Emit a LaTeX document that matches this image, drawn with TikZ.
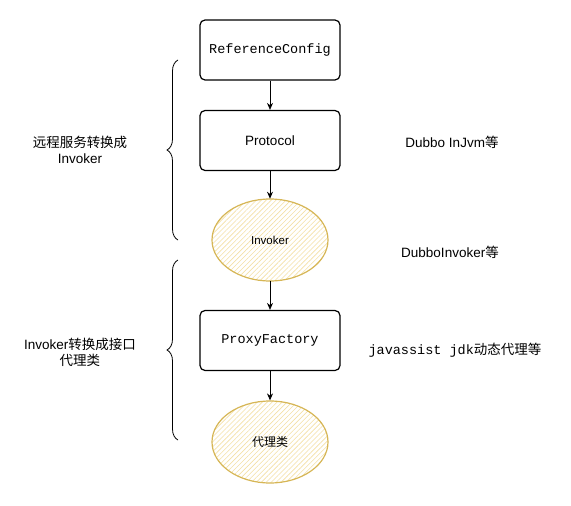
\documentclass[tikz,border=0pt]{standalone}
\usepackage{fontspec}
\setmainfont{Liberation Sans}
\setmonofont{Liberation Mono}
\newfontfamily\cjk{Noto Sans CJK SC}
\usepackage{tikz}
\usetikzlibrary{arrows.meta,positioning,patterns.meta,shapes.geometric}
\usetikzlibrary{decorations.pathreplacing}
\definecolor{sketchyellow}{HTML}{D6B656}
\definecolor{hatchyellow}{HTML}{F3DFA4}
\tikzset{stepbox/.style={rectangle,draw=black,line width=1.2pt,rounded corners=5pt,
  minimum width=140pt,minimum height=60pt,inner sep=0pt}}
\tikzset{blob/.style={ellipse,draw=sketchyellow,line width=1.2pt,
  pattern={Lines[angle=45,distance=3.5pt,line width=0.6pt]},pattern color=hatchyellow,
  minimum width=116pt,minimum height=82pt,inner sep=0pt}}
\tikzset{flow/.style={-{Stealth[length=7pt,width=6pt]},line width=0.8pt}}
\tikzset{curly/.style={decorate,decoration={brace,amplitude=11pt},line width=0.8pt}}

\begin{document}
\begin{tikzpicture}[x=1pt,y=-1pt,font=\fontsize{13.5pt}{16pt}\selectfont]
\useasboundingbox (0,0) rectangle (571,506);
% \draw[help lines,step=50] (0,0) grid (571,506);
\node (ref) [stepbox] at (270,50) {\ttfamily ReferenceConfig};
\node (proto) [stepbox] at (270,140.5) {Protocol};
\node (inv) [blob] at (270,240) {\fontsize{11.5pt}{14pt}\selectfont Invoker};
\node (pf) [stepbox] at (270,340.5) {\ttfamily ProxyFactory};
\node (proxy) [blob] at (270,442) {\fontsize{12pt}{14pt}\selectfont\cjk 代理类};
%
\path[flow] (ref) edge (proto);
\path[flow] (proto) edge (inv);
\path[flow] (inv) edge (pf);
\path[flow] (pf) edge (proxy);
%
\draw[curly] (178,240) -- (178,60);
\draw[curly] (178,440) -- (178,260);
%
\node (lab1) [align=center] at (80,150) {{\cjk 远程服务转换成}\\Invoker};
\node (lab2) [align=center] at (80,352) {Invoker{\cjk 转换成接口}\\{\cjk 代理类}};
\node (note1) at (452,142) {Dubbo InJvm{\cjk 等}};
\node (note2) at (450,252) {DubboInvoker{\cjk 等}};
\node (note3) at (455,350) {\ttfamily javassist jdk{\cjk 动态代理等}};
\end{tikzpicture}
\end{document}
